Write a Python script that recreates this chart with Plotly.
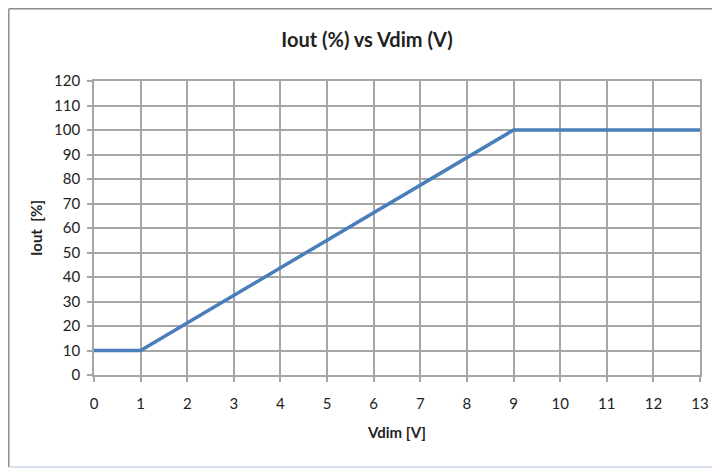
import plotly.graph_objects as go

vdim = [0, 1, 9, 13]
iout = [10, 10, 100, 100]
x_ticks = list(range(0, 14))
y_ticks = list(range(0, 121, 10))

# page has an 8px body margin; figure sized to fill the rest of the 720x469 window
OFF = 8
W, H = 720 - OFF, 469 - OFF
L, T = 94 - OFF, 81 - OFF
pw, ph = 606, 294
R, B = W - L - pw, H - T - ph

def px(xp):
    return (xp - L) / pw

def py(yp):
    return (H - B - yp) / ph

font = "Lato, Open Sans, Liberation Sans, Arial"

fig = go.Figure()
fig.add_trace(go.Scatter(x=vdim, y=iout, mode="lines",
                         line=dict(color="#4a7ebb", width=3.5), showlegend=False))

grid = "#a6a6a6"
fig.update_xaxes(range=[0, 13], tickvals=x_ticks, showgrid=True, gridcolor=grid, gridwidth=1.6,
                 showline=True, linecolor=grid, linewidth=1.6, mirror=True,
                 ticks="outside", ticklen=5, tickcolor=grid, tickwidth=1.6,
                 ticklabelstandoff=9,
                 tickfont=dict(size=15, color="#222"), zeroline=False,
                 title=dict(text="<b>Vdim [V]</b>", font=dict(size=15, color="#222"), standoff=17))
fig.update_yaxes(range=[0, 120], tickvals=y_ticks, showgrid=True, gridcolor=grid, gridwidth=1.6,
                 showline=True, linecolor=grid, linewidth=1.6, mirror=True,
                 ticks="outside", ticklen=5, tickcolor=grid, tickwidth=1.6,
                 ticklabelstandoff=4,
                 tickfont=dict(size=15, color="#222"), zeroline=False,
                 title=dict(text="<b>Iout  [%]</b>", font=dict(size=15, color="#222"), standoff=8))

shapes = [
    dict(type="line", xref="paper", yref="paper", x0=px(0.8), x1=px(0.8), y0=py(0.8), y1=py(459),
         line=dict(color="#8c8c8c", width=1.5)),
    dict(type="line", xref="paper", yref="paper", x0=px(0.8), x1=px(W), y0=py(0.8), y1=py(0.8),
         line=dict(color="#8c8c8c", width=1.5)),
    dict(type="line", xref="paper", yref="paper", x0=px(0.8), x1=px(W), y0=py(459), y1=py(459),
         line=dict(color="#c9d9ee", width=1.5)),
]

fig.update_layout(
    width=W, height=H,
    margin=dict(l=L, r=R, t=T, b=B),
    paper_bgcolor="white", plot_bgcolor="white",
    font=dict(family=font, color="#222"),
    title=dict(text="<b>Iout (%) vs Vdim (V)</b>", x=(367 - OFF) / W, xanchor="center",
               y=1 - (40 - OFF) / H, yanchor="middle", font=dict(size=20, color="#222")),
    shapes=shapes,
)

fig.write_html("out.html")
